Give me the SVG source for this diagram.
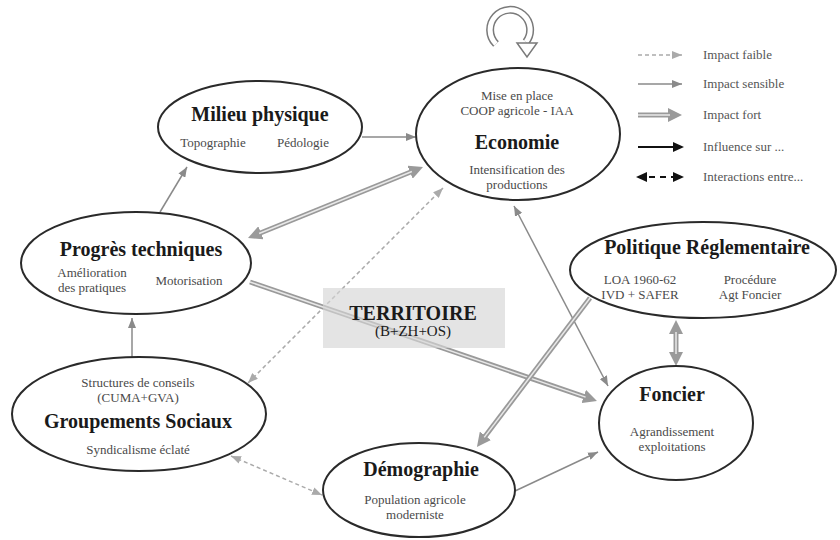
<svg xmlns="http://www.w3.org/2000/svg" width="840" height="540" viewBox="0 0 840 540">
<style>
  .node { fill: #ffffff; stroke: #2a2a2a; stroke-width: 2; }
  .title { font-family: "Liberation Serif", "Times New Roman", serif; font-size: 20px; font-weight: bold; fill: #1a1a1a; text-anchor: middle; }
  .sub { font-family: "Liberation Serif", "Times New Roman", serif; font-size: 13px; fill: #4a4a4a; text-anchor: middle; }
  .leg { font-family: "Liberation Serif", "Times New Roman", serif; font-size: 13px; fill: #555; }
  .sens { fill: none; stroke: #8a8a8a; stroke-width: 1.5; }
  .faib { fill: none; stroke: #aaaaaa; stroke-width: 1.5; stroke-dasharray: 4 3; }
  .fortO { fill: none; stroke: #9a9a9a; stroke-width: 5; }
  .fortI { fill: none; stroke: #e8e8e8; stroke-width: 1.5; }
  .blk { fill: none; stroke: #111; stroke-width: 2; }
  .blkd { fill: none; stroke: #111; stroke-width: 2; stroke-dasharray: 6 5; }
</style>
<defs>
  <marker id="mS" markerUnits="userSpaceOnUse" markerWidth="10" markerHeight="8" refX="10" refY="4" orient="auto-start-reverse">
    <path d="M0,0 L10,4 L0,8 z" fill="#8a8a8a"/>
  </marker>
  <marker id="mF" markerUnits="userSpaceOnUse" markerWidth="10" markerHeight="8" refX="10" refY="4" orient="auto-start-reverse">
    <path d="M0,0 L10,4 L0,8 z" fill="#aaaaaa"/>
  </marker>
  <marker id="mH" markerUnits="userSpaceOnUse" markerWidth="14" markerHeight="14" refX="2" refY="7" orient="auto-start-reverse">
    <path d="M0,0 L14,7 L0,14 z" fill="#9a9a9a"/>
  </marker>
  <marker id="mB" markerUnits="userSpaceOnUse" markerWidth="11" markerHeight="10" refX="9" refY="5" orient="auto-start-reverse">
    <path d="M0,0 L11,5 L0,10 z" fill="#111"/>
  </marker>
</defs>
<rect width="840" height="540" fill="#ffffff"/>

<g id="connectors">
  <!-- impact sensible -->
  <line class="sens" x1="362" y1="137" x2="416" y2="137" marker-end="url(#mS)"/>
  <line class="sens" x1="160" y1="212" x2="187" y2="167" marker-end="url(#mS)"/>
  <line class="sens" x1="132" y1="357" x2="132" y2="318" marker-end="url(#mS)"/>
  <line class="sens" x1="608" y1="386" x2="514" y2="206" marker-start="url(#mS)" marker-end="url(#mS)"/>
  <line class="sens" x1="515" y1="491" x2="598" y2="452" marker-end="url(#mS)"/>
  <!-- impact faible -->
  <line class="faib" x1="248" y1="383" x2="443" y2="188" marker-start="url(#mF)" marker-end="url(#mF)"/>
  <line class="faib" x1="231" y1="456" x2="322" y2="495" marker-start="url(#mF)" marker-end="url(#mF)"/>
  <!-- impact fort -->
  <line class="fortO" x1="259.1" y1="233.5" x2="411.9" y2="171.5" marker-start="url(#mH)" marker-end="url(#mH)"/>
  <line class="fortI" x1="259.1" y1="233.5" x2="411.9" y2="171.5"/>
  <line class="fortO" x1="250" y1="282" x2="585.6" y2="397.1" marker-end="url(#mH)"/>
  <line class="fortI" x1="250" y1="282" x2="585.6" y2="397.1"/>
  <line class="fortO" x1="590" y1="298" x2="484.2" y2="437.4" marker-end="url(#mH)"/>
  <line class="fortI" x1="590" y1="298" x2="484.2" y2="437.4"/>
  <line class="fortO" x1="676" y1="332" x2="676" y2="354" marker-start="url(#mH)" marker-end="url(#mH)"/>
  <line class="fortI" x1="676" y1="332" x2="676" y2="354"/>
  <!-- self loop on Economie -->
  <path d="M496,44 A20,20 0 1 1 526,42" fill="none" stroke="#7a7a7a" stroke-width="8"/>
  <path d="M496,44 A20,20 0 1 1 526,42" fill="none" stroke="#ffffff" stroke-width="5"/>
  <polygon points="517,43 537,43 527,57" fill="#ffffff" stroke="#7a7a7a" stroke-width="1.5"/>
</g>

<g id="milieu">
  <ellipse class="node" cx="260" cy="127" rx="102" ry="46"/>
  <text class="title" x="260" y="121">Milieu physique</text>
  <text class="sub" x="213" y="147">Topographie</text>
  <text class="sub" x="303" y="147">Pédologie</text>
</g>

<g id="economie">
  <ellipse class="node" cx="518" cy="134" rx="102" ry="66"/>
  <text class="sub" x="517" y="100">Mise en place</text>
  <text class="sub" x="517" y="115">COOP agricole - IAA</text>
  <text class="title" x="517" y="149">Economie</text>
  <text class="sub" x="517" y="174">Intensification des</text>
  <text class="sub" x="517" y="189">productions</text>
</g>

<g id="progres">
  <ellipse class="node" cx="136" cy="263" rx="115" ry="51"/>
  <text class="title" x="141" y="256">Progrès techniques</text>
  <text class="sub" x="92" y="277">Amélioration</text>
  <text class="sub" x="92" y="292">des pratiques</text>
  <text class="sub" x="189" y="285">Motorisation</text>
</g>

<g id="politique">
  <ellipse class="node" cx="703" cy="270" rx="133" ry="48"/>
  <text class="title" x="707" y="254">Politique Réglementaire</text>
  <text class="sub" x="640" y="284">LOA 1960-62</text>
  <text class="sub" x="640" y="299">IVD + SAFER</text>
  <text class="sub" x="750" y="284">Procédure</text>
  <text class="sub" x="750" y="299">Agt Foncier</text>
</g>

<g id="groupements">
  <ellipse class="node" cx="139" cy="414" rx="127" ry="57"/>
  <text class="sub" x="138" y="387">Structures de conseils</text>
  <text class="sub" x="138" y="402">(CUMA+GVA)</text>
  <text class="title" x="138" y="428">Groupements Sociaux</text>
  <text class="sub" x="138" y="454">Syndicalisme éclaté</text>
</g>

<g id="demographie">
  <ellipse class="node" cx="419" cy="490" rx="96" ry="47"/>
  <text class="title" x="421" y="476">Démographie</text>
  <text class="sub" x="415" y="504">Population agricole</text>
  <text class="sub" x="415" y="519">moderniste</text>
</g>

<g id="foncier">
  <ellipse class="node" cx="676" cy="423" rx="77" ry="57"/>
  <text class="title" x="672" y="401">Foncier</text>
  <text class="sub" x="672" y="436">Agrandissement</text>
  <text class="sub" x="672" y="451">exploitations</text>
</g>

<g id="territoire">
  <rect x="323" y="288" width="182" height="60" fill="#d6d6d6" fill-opacity="0.65"/>
  <text class="title" x="413" y="320">TERRITOIRE</text>
  <text class="title" x="413" y="336" style="font-size:15px;font-weight:normal">(B+ZH+OS)</text>
</g>

<g id="legend">
  <line class="faib" x1="638" y1="55" x2="682" y2="55" marker-end="url(#mF)"/>
  <text class="leg" x="703" y="59">Impact faible</text>
  <line class="sens" x1="638" y1="84" x2="682" y2="84" marker-end="url(#mS)"/>
  <text class="leg" x="703" y="88">Impact sensible</text>
  <line class="fortO" x1="638" y1="115" x2="670" y2="115" marker-end="url(#mH)"/>
  <line class="fortI" x1="638" y1="115" x2="670" y2="115"/>
  <text class="leg" x="703" y="119">Impact fort</text>
  <line class="blk" x1="638" y1="147" x2="682" y2="147" marker-end="url(#mB)"/>
  <text class="leg" x="703" y="151">Influence sur ...</text>
  <line class="blkd" x1="638" y1="177" x2="682" y2="177" marker-start="url(#mB)" marker-end="url(#mB)"/>
  <text class="leg" x="703" y="181">Interactions entre...</text>
</g>
</svg>
